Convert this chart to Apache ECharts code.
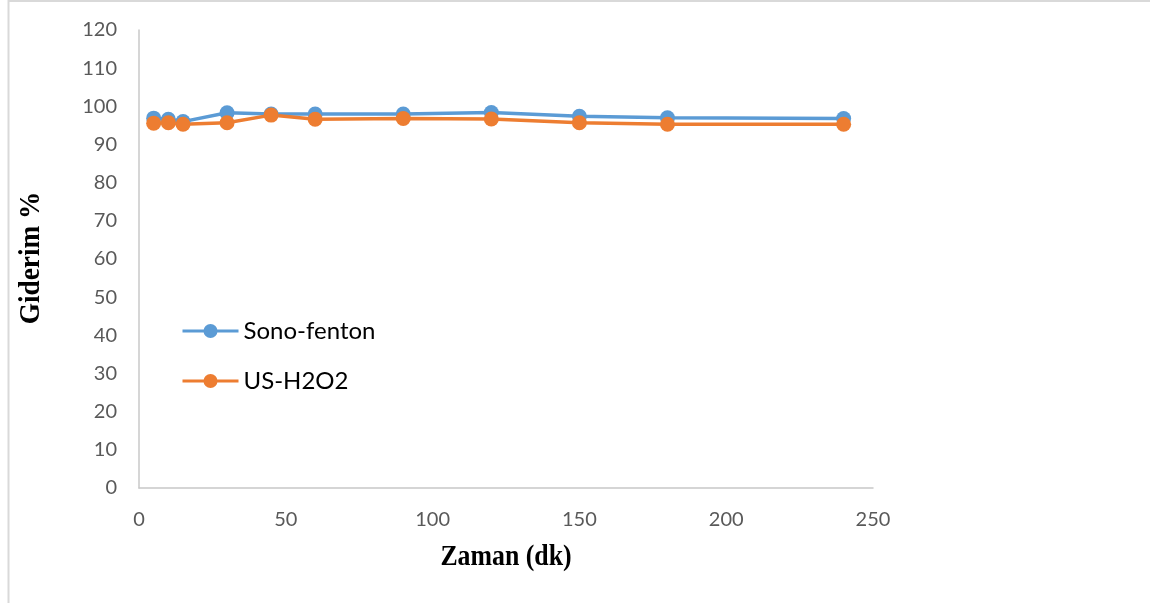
<!DOCTYPE html>
<html>
<head>
<meta charset="utf-8">
<script src="https://cdn.jsdelivr.net/npm/echarts@6/dist/echarts.min.js"></script>
<style>
  html, body { margin: 0; padding: 0; background: #fff; }
  #chart { width: 1150px; height: 603px; }
</style>
</head>
<body>
<div id="chart"></div>
<script>
// Reaction time (minutes)
const times = [5, 10, 15, 30, 45, 60, 90, 120, 150, 180, 240];
// Removal efficiency (%)
const sonoFenton = [96.9, 96.6, 96.0, 98.3, 98.0, 98.0, 98.0, 98.4, 97.4, 97.0, 96.8];
const usH2O2 = [95.6, 95.7, 95.3, 95.7, 97.7, 96.6, 96.8, 96.7, 95.7, 95.3, 95.3];
const seriesNames = ['Sono-fenton', 'US-H2O2'];
const seriesColors = ['#5B9BD5', '#ED7D31'];
const xTitle = 'Zaman (dk)';
const yTitle = 'Giderim %';

const chart = echarts.init(document.getElementById('chart'));

const pairs = (xs, ys) => xs.map((x, i) => [x, ys[i]]);
const sansFont = 'Lato, "Open Sans", sans-serif';
const serifFont = '"Liberation Serif", "Times New Roman", serif';
const tickFont = { fontFamily: sansFont, fontSize: 20, color: '#595959' };

function lineSeries(name, values, color) {
  return {
    name: name,
    type: 'line',
    data: pairs(times, values),
    symbol: 'circle',
    symbolSize: 15,
    lineStyle: { width: 3.5, color: color },
    itemStyle: { color: color },
    emphasis: { disabled: true },
    animation: false
  };
}

function axisTitle(text, x, y, rotation, scale) {
  return {
    type: 'text',
    x: x,
    y: y,
    rotation: rotation,
    scaleX: scale,
    style: {
      text: text,
      font: 'bold 29px ' + serifFont,
      fill: '#000',
      textAlign: 'center',
      textVerticalAlign: 'middle'
    }
  };
}

chart.setOption({
  animation: false,
  grid: { left: 139, right: 277, top: 30, bottom: 115, containLabel: false },
  legend: {
    orient: 'vertical',
    left: 176,
    top: 314,
    itemWidth: 56,
    itemHeight: 17.5,
    itemGap: 26,
    lineStyle: { width: 3 },
    textStyle: { fontFamily: sansFont, fontSize: 24, color: '#000' },
    data: seriesNames
  },
  xAxis: {
    type: 'value',
    min: 0,
    max: 250,
    interval: 50,
    axisLine: { show: true, lineStyle: { color: '#C8C8C8', width: 1.5 } },
    axisTick: { show: false },
    splitLine: { show: false },
    axisLabel: Object.assign({ margin: 22 }, tickFont)
  },
  yAxis: {
    type: 'value',
    min: 0,
    max: 120,
    interval: 10,
    axisLine: { show: true, lineStyle: { color: '#C8C8C8', width: 1.5 } },
    axisTick: { show: false },
    splitLine: { show: false },
    axisLabel: Object.assign({ margin: 22 }, tickFont)
  },
  graphic: [
    { type: 'line', shape: { x1: 8, y1: 1, x2: 1150, y2: 1 }, style: { stroke: '#D9D9D9', lineWidth: 2 } },
    { type: 'line', shape: { x1: 8.5, y1: 0, x2: 8.5, y2: 603 }, style: { stroke: '#D9D9D9', lineWidth: 2 } },
    axisTitle(xTitle, 506, 558, 0, 0.89),
    axisTitle(yTitle, 32, 258, Math.PI / 2, 0.94)
  ],
  series: [
    lineSeries(seriesNames[0], sonoFenton, seriesColors[0]),
    lineSeries(seriesNames[1], usH2O2, seriesColors[1])
  ]
});
</script>
</body>
</html>
